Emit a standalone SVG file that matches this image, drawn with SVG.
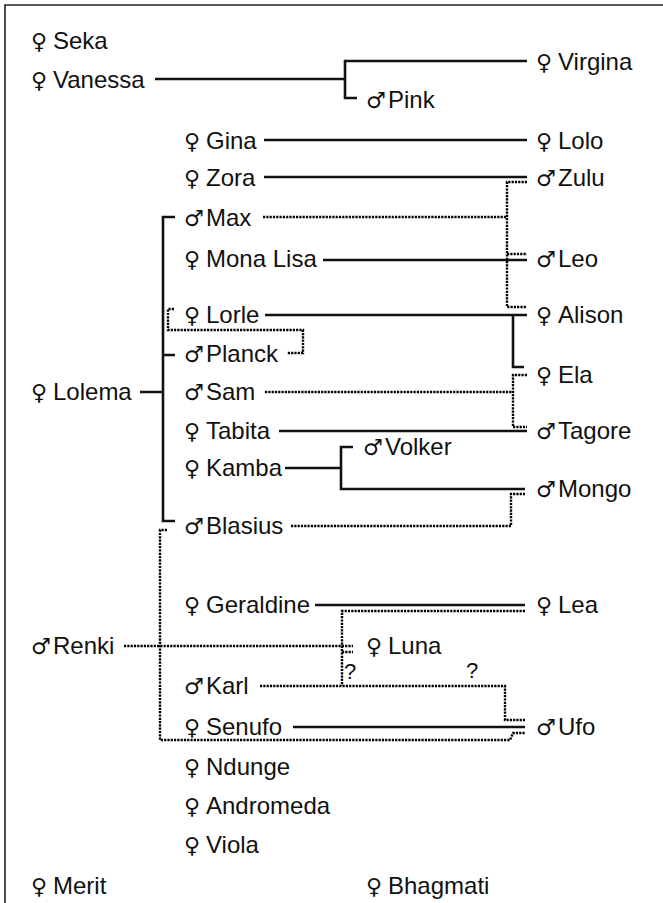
<svg xmlns="http://www.w3.org/2000/svg" width="663" height="903" viewBox="0 0 663 903">
<style>
text{font-family:"Liberation Sans",Arial,sans-serif;font-size:24px;fill:#111}
.s{font-family:"DejaVu Sans",sans-serif;font-size:22px}
.q{font-size:22px}
.solid{fill:none;stroke:#111;stroke-width:2.6}
.dot{fill:none;stroke:#000;stroke-width:2.4;stroke-dasharray:2.2 1.1}
.frame{fill:none;stroke:#222;stroke-width:1.6}
</style>
<rect width="663" height="903" fill="#fff"/>
<path class="frame" d="M5,903 V5 H663"/>
<g id="connectors">
<path class="solid" d="M155,79 H345 M527,61 H345 V98 H357"/>
<path class="solid" d="M264,140 H527"/>
<path class="solid" d="M264,177 H527"/>
<path class="solid" d="M323,260 H527"/>
<path class="solid" d="M265,315 H527 M513,315 V367 H524"/>
<path class="solid" d="M279,431 H527"/>
<path class="solid" d="M175,217 H163 V521 H175 M175,355 H163 M140,392 H163"/>
<path class="solid" d="M285,468 H341 M353,447 H341 V489 H525"/>
<path class="solid" d="M315,605 H525"/>
<path class="solid" d="M293,727 H525"/>
<path class="dot" d="M527,182 H507 V307 H527 M263,217 H507 M507,254 H527"/>
<path class="dot" d="M174,309 H168 V330 H303 V353 H287"/>
<path class="dot" d="M265,392 H513 M527,375 H513 V427 H527"/>
<path class="dot" d="M291,526 H511 V494 H525"/>
<path class="dot" d="M167,530 H160 V740 H510 L513,733 H525"/>
<path class="dot" d="M124,646 H353"/>
<path class="dot" d="M525,611 H342 V686 M342,652 H353"/>
<path class="dot" d="M260,686 H505 V720 H525"/>
<text class="q" x="344" y="679">?</text>
<text class="q" x="466" y="678">?</text>
</g>
<g id="n-seka"><text x="31" y="49"><tspan class="s">♀</tspan><tspan x="53">Seka</tspan></text></g>
<g id="n-vanessa"><text x="31" y="88"><tspan class="s">♀</tspan><tspan x="53">Vanessa</tspan></text></g>
<g id="n-virgina"><text x="536" y="70"><tspan class="s">♀</tspan><tspan x="558">Virgina</tspan></text></g>
<g id="n-pink"><text x="366" y="108"><tspan class="s">♂</tspan><tspan x="388">Pink</tspan></text></g>
<g id="n-gina"><text x="184" y="149"><tspan class="s">♀</tspan><tspan x="206">Gina</tspan></text></g>
<g id="n-lolo"><text x="536" y="149"><tspan class="s">♀</tspan><tspan x="558">Lolo</tspan></text></g>
<g id="n-zora"><text x="184" y="186"><tspan class="s">♀</tspan><tspan x="206">Zora</tspan></text></g>
<g id="n-zulu"><text x="536" y="186"><tspan class="s">♂</tspan><tspan x="558">Zulu</tspan></text></g>
<g id="n-max"><text x="184" y="226"><tspan class="s">♂</tspan><tspan x="206">Max</tspan></text></g>
<g id="n-monalisa"><text x="184" y="267"><tspan class="s">♀</tspan><tspan x="206">Mona Lisa</tspan></text></g>
<g id="n-leo"><text x="536" y="267"><tspan class="s">♂</tspan><tspan x="558">Leo</tspan></text></g>
<g id="n-lorle"><text x="184" y="323"><tspan class="s">♀</tspan><tspan x="206">Lorle</tspan></text></g>
<g id="n-alison"><text x="536" y="323"><tspan class="s">♀</tspan><tspan x="558">Alison</tspan></text></g>
<g id="n-planck"><text x="184" y="362"><tspan class="s">♂</tspan><tspan x="206">Planck</tspan></text></g>
<g id="n-ela"><text x="536" y="383"><tspan class="s">♀</tspan><tspan x="558">Ela</tspan></text></g>
<g id="n-lolema"><text x="31" y="400"><tspan class="s">♀</tspan><tspan x="53">Lolema</tspan></text></g>
<g id="n-sam"><text x="184" y="400"><tspan class="s">♂</tspan><tspan x="206">Sam</tspan></text></g>
<g id="n-tabita"><text x="184" y="439"><tspan class="s">♀</tspan><tspan x="206">Tabita</tspan></text></g>
<g id="n-tagore"><text x="536" y="439"><tspan class="s">♂</tspan><tspan x="558">Tagore</tspan></text></g>
<g id="n-volker"><text x="363" y="455"><tspan class="s">♂</tspan><tspan x="385">Volker</tspan></text></g>
<g id="n-kamba"><text x="184" y="476"><tspan class="s">♀</tspan><tspan x="206">Kamba</tspan></text></g>
<g id="n-mongo"><text x="536" y="497"><tspan class="s">♂</tspan><tspan x="558">Mongo</tspan></text></g>
<g id="n-blasius"><text x="184" y="534"><tspan class="s">♂</tspan><tspan x="206">Blasius</tspan></text></g>
<g id="n-geraldine"><text x="184" y="613"><tspan class="s">♀</tspan><tspan x="206">Geraldine</tspan></text></g>
<g id="n-lea"><text x="536" y="613"><tspan class="s">♀</tspan><tspan x="558">Lea</tspan></text></g>
<g id="n-renki"><text x="31" y="654"><tspan class="s">♂</tspan><tspan x="53">Renki</tspan></text></g>
<g id="n-luna"><text x="366" y="654"><tspan class="s">♀</tspan><tspan x="388">Luna</tspan></text></g>
<g id="n-karl"><text x="184" y="694"><tspan class="s">♂</tspan><tspan x="206">Karl</tspan></text></g>
<g id="n-senufo"><text x="184" y="735"><tspan class="s">♀</tspan><tspan x="206">Senufo</tspan></text></g>
<g id="n-ufo"><text x="536" y="735"><tspan class="s">♂</tspan><tspan x="558">Ufo</tspan></text></g>
<g id="n-ndunge"><text x="184" y="775"><tspan class="s">♀</tspan><tspan x="206">Ndunge</tspan></text></g>
<g id="n-andromeda"><text x="184" y="814"><tspan class="s">♀</tspan><tspan x="206">Andromeda</tspan></text></g>
<g id="n-viola"><text x="184" y="853"><tspan class="s">♀</tspan><tspan x="206">Viola</tspan></text></g>
<g id="n-merit"><text x="31" y="894"><tspan class="s">♀</tspan><tspan x="53">Merit</tspan></text></g>
<g id="n-bhagmati"><text x="366" y="894"><tspan class="s">♀</tspan><tspan x="388">Bhagmati</tspan></text></g>
</svg>
